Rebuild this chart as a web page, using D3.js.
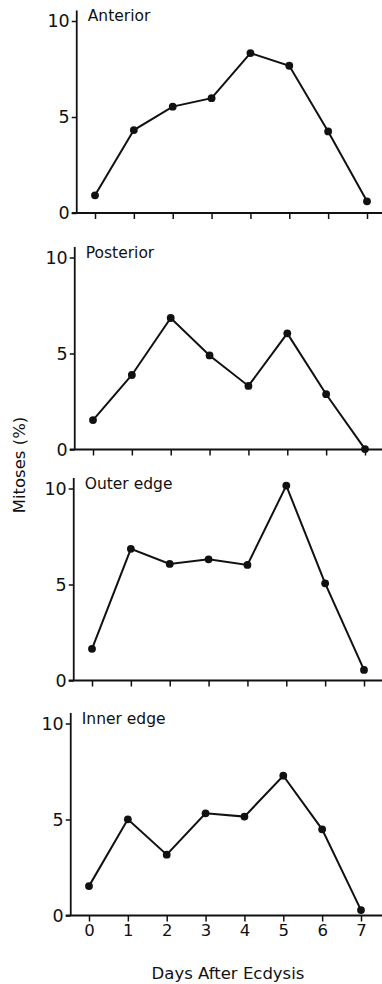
<!DOCTYPE html>
<html>
<head>
<meta charset="utf-8">
<script src="https://cdn.jsdelivr.net/npm/d3@7"></script>
<style>
  body { margin: 0; background: #fff; }
  text { font-family: "DejaVu Sans", sans-serif; fill: #111; }
</style>
</head>
<body>
<svg width="382" height="984"></svg>
<script>
// data
const days = [0, 1, 2, 3, 4, 5, 6, 7]
const regions = ["Anterior", "Posterior", "Outer edge", "Inner edge"]
const anterior = [0.92, 4.32, 5.54, 5.98, 8.33, 7.67, 4.25, 0.61]
const posterior = [1.53, 3.88, 6.85, 4.9, 3.31, 6.05, 2.88, 0.02]
const outerEdge = [1.65, 6.86, 6.07, 6.31, 6.02, 10.15, 5.06, 0.55]
const innerEdge = [1.53, 5.01, 3.17, 5.32, 5.15, 7.28, 4.49, 0.28]
const yTicks = [0, 5, 10]
const series = [anterior, posterior, outerEdge, innerEdge]

const svg = d3.select("svg")

// layout (the scan is slightly skewed, so each panel gets its own offset)
const panelTop = [21, 257.5, 488.5, 723.5],
      panelShift = [0, -2, -3, -6],
      plotH = 192

const x = d3.scaleLinear()
  .domain([0, 7])
  .range([95, 367])

const y = d3.scaleLinear()
  .domain([0, 10])
  .range([plotH, 0])

const line = d3.line()
  .x((d, i) => x(days[i]))
  .y(d => y(d))

regions.forEach((name, k) => {
  const g = svg.append("g")
    .attr("transform", `translate(${panelShift[k]}, ${panelTop[k]})`)
  const axisX = x(-0.47)

  // y axis
  const ya = g.append("g")
    .attr("transform", `translate(${axisX}, 0)`)
    .call(d3.axisLeft(y).tickValues(yTicks).tickSize(5).tickPadding(2))
  ya.select(".domain").remove()
  ya.selectAll("line").attr("stroke", "#111").attr("stroke-width", 1.5)
  ya.selectAll("text")
    .style("font-family", "DejaVu Sans, sans-serif")
    .style("font-size", "17.5px")
    .attr("fill", "#111")
  g.append("line")
    .attr("x1", axisX).attr("x2", axisX)
    .attr("y1", y(10.55)).attr("y2", y(0))
    .attr("stroke", "#111").attr("stroke-width", 1.8)

  // x axis
  const xa = g.append("g")
    .attr("transform", `translate(0, ${y(0)})`)
    .call(d3.axisBottom(x).tickValues(days).tickSize(6).tickPadding(3)
      .tickFormat(k === regions.length - 1 ? d3.format("d") : ""))
  xa.select(".domain").remove()
  xa.selectAll("line").attr("stroke", "#111").attr("stroke-width", 1.5)
  xa.selectAll("text")
    .style("font-family", "DejaVu Sans, sans-serif")
    .style("font-size", "16.5px")
    .attr("fill", "#111")
  g.append("line")
    .attr("x1", axisX - 5).attr("x2", 382 - panelShift[k])
    .attr("y1", y(0)).attr("y2", y(0))
    .attr("stroke", "#111").attr("stroke-width", 1.8)

  // panel label
  g.append("text")
    .attr("x", axisX + 11)
    .attr("y", 0)
    .style("font-size", "15.5px")
    .text(name)

  g.append("path")
    .datum(series[k])
    .attr("fill", "none")
    .attr("stroke", "#111")
    .attr("stroke-width", 2)
    .attr("d", line)

  g.selectAll(".dot")
    .data(series[k])
    .enter()
    .append("circle")
    .attr("class", "dot")
    .attr("cx", (d, i) => x(days[i]))
    .attr("cy", d => y(d))
    .attr("r", 3.9)
    .attr("fill", "#111")
})

svg.append("text")
  .attr("x", 228)
  .attr("y", 979)
  .attr("text-anchor", "middle")
  .style("font-size", "16.5px")
  .text("Days After Ecdysis")

svg.append("text")
  .attr("transform", "translate(25, 465) rotate(-90)")
  .attr("text-anchor", "middle")
  .style("font-size", "16.5px")
  .text("Mitoses (%)")
</script>
</body>
</html>
